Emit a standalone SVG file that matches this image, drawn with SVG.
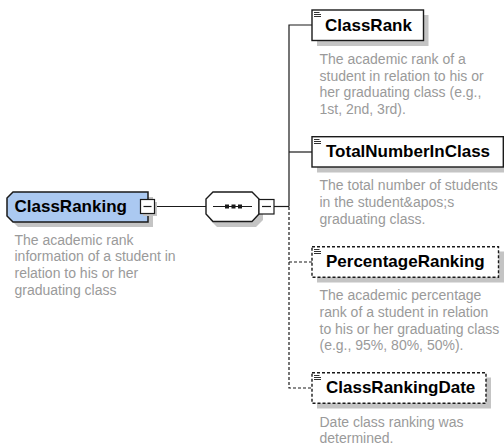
<svg xmlns="http://www.w3.org/2000/svg" width="504" height="446" viewBox="0 0 504 446">
<style>
.bg{fill:#ffffff}
.shadow{fill:#c4c4c4;stroke:none}
.box{fill:#ffffff;stroke:#1a1a1a;stroke-width:1.4}
.dbox{fill:#ffffff;stroke:#1a1a1a;stroke-width:1.4;stroke-dasharray:3,2}
.root{fill:#abc9f1;stroke:#1a1a1a;stroke-width:1.5}
.title{font-family:"Liberation Sans",Arial,sans-serif;font-weight:bold;font-size:17px;fill:#000000}
.desc{font-family:"Liberation Sans",Arial,sans-serif;font-size:14px;fill:#9a9a9a}
.line{stroke:#1a1a1a;stroke-width:1.2;fill:none}
.dline{stroke:#1a1a1a;stroke-width:1.2;fill:none;stroke-dasharray:3,2}
.icon{stroke:#1a1a1a;stroke-width:0.9;fill:none}
.mbox{fill:#ffffff;stroke:#1a1a1a;stroke-width:1.2}
</style>
<rect class="bg" x="0" y="0" width="504" height="446"/>

<g id="connectors">
  <line class="line" x1="155" y1="206.5" x2="206" y2="206.5"/>
  <line class="line" x1="274" y1="206.5" x2="289" y2="206.5"/>
  <polyline class="line" points="312,25 289,25 289,206.5"/>
  <line class="line" x1="289" y1="152" x2="312" y2="152"/>
  <polyline class="dline" points="289,207 289,388 312,388"/>
  <line class="dline" x1="289" y1="262" x2="312" y2="262"/>
</g>

<g id="ClassRanking">
  <polygon class="shadow" points="18,197 153,197 153,227 18,227 12,221 12,203"/>
  <polygon class="root" points="13,192 148,192 148,222 13,222 7,216 7,198"/>
  <text class="title" x="14.5" y="212">ClassRanking</text>
  <rect class="shadow" x="143" y="202" width="14" height="14"/>
  <rect class="mbox" x="140.5" y="199.5" width="14" height="14"/>
  <line class="line" x1="143.5" y1="206.5" x2="151.5" y2="206.5"/>
  <text class="desc" x="14.5" y="244.5">The academic rank</text>
  <text class="desc" x="14.5" y="261.2">information of a student in</text>
  <text class="desc" x="14.5" y="277.9">relation to his or her</text>
  <text class="desc" x="14.5" y="294.6">graduating class</text>
</g>

<g id="sequence">
  <polygon class="shadow" points="217,197 256,197 263,204 263,220 256,227 217,227 210,220 210,204"/>
  <polygon class="box" points="213,192 252,192 259,199 259,214 252,221.5 213,221.5 206,214 206,199"/>
  <line class="line" x1="213" y1="206.5" x2="252" y2="206.5"/>
  <rect x="225" y="204.5" width="4" height="4" fill="#1a1a1a"/>
  <rect x="231.5" y="204.5" width="4" height="4" fill="#1a1a1a"/>
  <rect x="238" y="204.5" width="4" height="4" fill="#1a1a1a"/>
  <rect class="mbox" x="259" y="199.5" width="15" height="14.5"/>
  <line class="line" x1="262" y1="206.5" x2="271" y2="206.5"/>
</g>

<g id="ClassRank">
  <rect class="shadow" x="317" y="15" width="111.5" height="31"/>
  <rect class="box" x="312" y="10" width="111.5" height="30.5"/>
  <path class="icon" d="M314,12.5 H319.5 M314,14.5 H321 M314,16.5 H321"/>
  <text class="title" x="325" y="30.5">ClassRank</text>
  <text class="desc" x="319.5" y="63.8">The academic rank of a</text>
  <text class="desc" x="319.5" y="80.5">student in relation to his or</text>
  <text class="desc" x="319.5" y="97.2">her graduating class (e.g.,</text>
  <text class="desc" x="319.5" y="113.9">1st, 2nd, 3rd).</text>
</g>

<g id="TotalNumberInClass">
  <rect class="shadow" x="317" y="141.5" width="192" height="31"/>
  <rect class="box" x="312" y="136.7" width="191.3" height="30.3"/>
  <path class="icon" d="M314,139.5 H319.5 M314,141.5 H321 M314,143.5 H321"/>
  <text class="title" x="326" y="157.3">TotalNumberInClass</text>
  <text class="desc" x="319.5" y="190.3">The total number of students</text>
  <text class="desc" x="319.5" y="207">in the student&amp;apos;s</text>
  <text class="desc" x="319.5" y="223.7">graduating class.</text>
</g>

<g id="PercentageRanking">
  <rect class="shadow" x="317" y="251.5" width="187" height="31"/>
  <rect class="dbox" x="312" y="246.7" width="186.5" height="30.5"/>
  <path class="icon" d="M314,249.5 H319.5 M314,251.5 H321 M314,253.5 H321"/>
  <text class="title" x="326" y="267">PercentageRanking</text>
  <text class="desc" x="319.5" y="300.3">The academic percentage</text>
  <text class="desc" x="319.5" y="317">rank of a student in relation</text>
  <text class="desc" x="319.5" y="333.7">to his or her graduating class</text>
  <text class="desc" x="319.5" y="350.4">(e.g., 95%, 80%, 50%).</text>
</g>

<g id="ClassRankingDate">
  <rect class="shadow" x="317" y="377.5" width="174" height="31"/>
  <rect class="dbox" x="312" y="372.7" width="174" height="30.5"/>
  <path class="icon" d="M314,375.5 H319.5 M314,377.5 H321 M314,379.5 H321"/>
  <text class="title" x="326" y="393.3">ClassRankingDate</text>
  <text class="desc" x="319.5" y="426.7">Date class ranking was</text>
  <text class="desc" x="319.5" y="443.4">determined.</text>
</g>
</svg>
